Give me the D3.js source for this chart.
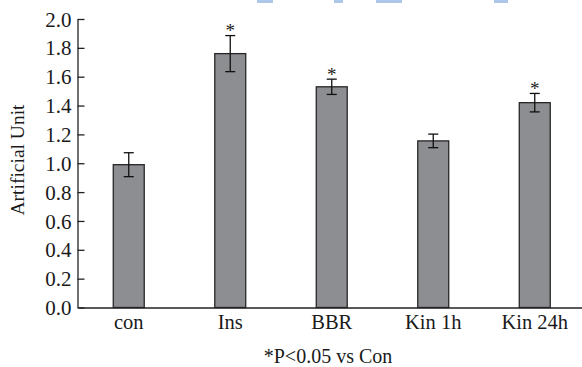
<!DOCTYPE html>
<html>
<head>
<meta charset="utf-8">
<script src="https://cdn.jsdelivr.net/npm/d3@7"></script>
<style>
  body { margin: 0; background: #fff; }
  svg { display: block; }
  text { font-family: "Liberation Serif", "Times New Roman", serif; fill: #1a1a1a; }
</style>
</head>
<body>
<div id="container"></div>
<script>
let w = 582;
let h = 367;

// data
let groups = ['con', 'Ins', 'BBR', 'Kin 1h', 'Kin 24h'];
let means  = [0.99, 1.76, 1.53, 1.155, 1.42];
let errs   = [0.083, 0.125, 0.053, 0.047, 0.064];
let signif = [false, true, true, false, true];
let yTicks = [0, 0.2, 0.4, 0.6, 0.8, 1.0, 1.2, 1.4, 1.6, 1.8, 2.0];

let svg = d3.select('#container').append('svg')
            .attr('width', w)
            .attr('height', h);

// blue marks cut off at the top edge of the figure
let topMarks = [[257, 16], [334, 9], [376, 26], [494, 14]];
svg.selectAll('rect.mark')
   .data(topMarks)
   .enter()
   .append('rect')
   .attr('class', 'mark')
   .attr('x', d => d[0])
   .attr('y', 0)
   .attr('width', d => d[1])
   .attr('height', 3)
   .attr('fill', '#adc6ea');

let x = d3.scaleBand()
          .domain(groups)
          .range([78, 585.5])
          .paddingInner(0.695)
          .paddingOuter(0.3475);

let y = d3.scaleLinear()
          .domain([0, 2])
          .range([307.5, 19]);

// y axis, ticks pointing inward
let yAxis = d3.axisLeft(y)
              .tickValues(yTicks)
              .tickFormat(d3.format('.1f'))
              .tickSizeInner(-7)
              .tickSizeOuter(0)
              .tickPadding(6);

let gy = svg.append('g')
            .attr('transform', 'translate(77.5,0)')
            .call(yAxis);
gy.selectAll('text').style('font-size', '21px').attr('dy', '0.34em');
gy.selectAll('line, path').attr('stroke', '#222').attr('stroke-width', 1.3);

// bars
svg.selectAll('rect.bar')
   .data(groups)
   .enter()
   .append('rect')
   .attr('class', 'bar')
   .attr('x', d => x(d))
   .attr('y', (d, i) => y(means[i]))
   .attr('width', x.bandwidth())
   .attr('height', (d, i) => y(0) - y(means[i]))
   .attr('fill', '#8d8e92')
   .attr('stroke', '#262626')
   .attr('stroke-width', 1.3);

// error bars
let eb = svg.append('g').attr('stroke', '#111').attr('stroke-width', 1.3);
groups.forEach((g, i) => {
  let cx = x(g) + x.bandwidth() / 2;
  let top = y(means[i] + errs[i]);
  let bot = y(means[i] - errs[i]);
  eb.append('line').attr('x1', cx).attr('x2', cx).attr('y1', top).attr('y2', bot);
  eb.append('line').attr('x1', cx - 5).attr('x2', cx + 5).attr('y1', top).attr('y2', top);
  eb.append('line').attr('x1', cx - 5).attr('x2', cx + 5).attr('y1', bot).attr('y2', bot);
  if (signif[i]) {
    svg.append('text')
       .attr('x', cx)
       .attr('y', top + 1.5)
       .attr('text-anchor', 'middle')
       .style('font-size', '19px')
       .text('*');
  }
});

// x axis
let xAxis = d3.axisBottom(x)
              .tickSize(0)
              .tickPadding(7);

let gx = svg.append('g')
            .attr('transform', 'translate(0,307.5)')
            .call(xAxis);
gx.selectAll('text').style('font-size', '20.5px');
gx.select('.domain').attr('stroke', '#222').attr('stroke-width', 1.3);

// labels
svg.append('text')
   .attr('transform', 'translate(23.5,160) rotate(-90)')
   .attr('text-anchor', 'middle')
   .style('font-size', '19.5px')
   .text('Artificial Unit');

svg.append('text')
   .attr('x', 328)
   .attr('y', 363)
   .attr('text-anchor', 'middle')
   .style('font-size', '20px')
   .text('*P<0.05 vs Con');
</script>
</body>
</html>
